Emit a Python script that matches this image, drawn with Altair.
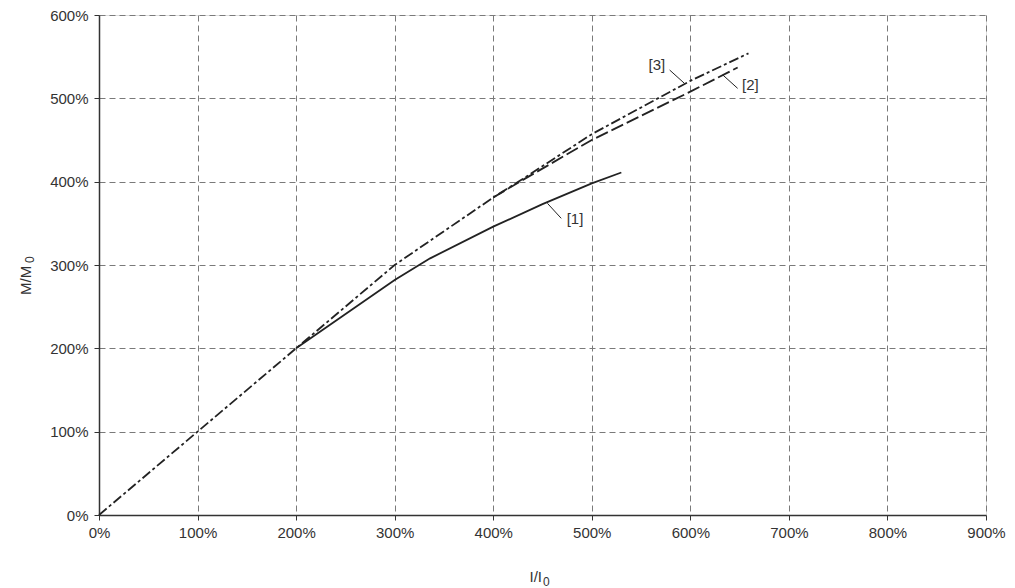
import altair as alt
import pandas as pd

# Curve data (percent values)
c1_x = [200, 300, 336, 400, 450, 500, 530]
c1_y = [200, 282, 308, 346, 373, 398, 411]

c2_x = [400, 427, 500, 600, 648]
c2_y = [381, 400, 450, 508, 537]

c3_x = [0, 100, 200, 300, 400, 427, 500, 600, 659]
c3_y = [0, 100, 200, 300, 381, 401, 457, 521, 554]

# Labels and leader lines
lab_text = ["[1]", "[2]", "[3]"]
lab_x = [483, 661, 566]
lab_y = [355, 516, 540]
lead_x = [455, 633, 579]
lead_y = [374, 528, 534]
lead_x2 = [469, 648, 594]
lead_y2 = [356, 512, 518]

x_ticks = list(range(0, 901, 100))
y_ticks = list(range(0, 601, 100))

FONT = "Liberation Sans"
INK = "#222222"
TXT = "#333333"
FS = 15

xs = alt.Scale(domain=[0, 900], nice=False, zero=False)
ys = alt.Scale(domain=[0, 600], nice=False, zero=False)

common = dict(grid=True, gridDash=[6, 4], gridColor="#7a7a7a", gridWidth=1,
              domainColor="#333333", domainWidth=1.5, tickColor="#333333",
              tickSize=5, labelFlush=False, labelOverlap=False,
              labelFont=FONT, labelFontSize=FS, labelColor=TXT, title=None)

x_axis = alt.Axis(values=x_ticks, labelExpr="datum.value + '%'", labelPadding=5, **common)
y_axis = alt.Axis(values=y_ticks, labelExpr="datum.value + '%'", labelPadding=6, **common)

d1 = pd.DataFrame({"x": c1_x, "y": c1_y})
d2 = pd.DataFrame({"x": c2_x, "y": c2_y})
d3 = pd.DataFrame({"x": c3_x, "y": c3_y})
dl = pd.DataFrame({"t": lab_text, "x": lab_x, "y": lab_y})
dr = pd.DataFrame({"x": lead_x, "y": lead_y, "x2": lead_x2, "y2": lead_y2})

line3 = alt.Chart(d3).mark_line(strokeWidth=1.8, color=INK, strokeDash=[10, 3, 3, 3]).encode(
    x=alt.X("x:Q", scale=xs, axis=x_axis),
    y=alt.Y("y:Q", scale=ys, axis=y_axis),
)

line2 = alt.Chart(d2).mark_line(strokeWidth=1.8, color=INK, strokeDash=[13, 4]).encode(
    x=alt.X("x:Q", scale=xs), y=alt.Y("y:Q", scale=ys))

line1 = alt.Chart(d1).mark_line(strokeWidth=1.8, color=INK).encode(
    x=alt.X("x:Q", scale=xs), y=alt.Y("y:Q", scale=ys))

leaders = alt.Chart(dr).mark_rule(strokeWidth=1, color=INK).encode(
    x=alt.X("x:Q", scale=xs), y=alt.Y("y:Q", scale=ys), x2="x2:Q", y2="y2:Q")

labels = alt.Chart(dl).mark_text(font=FONT, fontSize=FS, color=TXT,
                                 align="center", baseline="middle").encode(
    x=alt.X("x:Q", scale=xs), y=alt.Y("y:Q", scale=ys), text="t:N")

# Axis titles with subscript 0
one = pd.DataFrame({"a": [0]})
xt_main = alt.Chart(one).mark_text(font=FONT, fontSize=FS, color=TXT, align="right",
                                   baseline="alphabetic", text="I/I").encode(
    x=alt.value(443), y=alt.value(567))
xt_sub = alt.Chart(one).mark_text(font=FONT, fontSize=12, color=TXT, align="left",
                                  baseline="alphabetic", text="0").encode(
    x=alt.value(444), y=alt.value(571))
yt_main = alt.Chart(one).mark_text(font=FONT, fontSize=FS, color=TXT, align="left",
                                   baseline="alphabetic", angle=270, text="M/M").encode(
    x=alt.value(-68), y=alt.value(280))
yt_sub = alt.Chart(one).mark_text(font=FONT, fontSize=12, color=TXT, align="left",
                                  baseline="alphabetic", angle=270, text="0").encode(
    x=alt.value(-65), y=alt.value(248))

chart = alt.layer(line3, line2, line1, leaders, labels,
                  xt_main, xt_sub, yt_main, yt_sub).properties(
    width=887, height=500,
    autosize=alt.AutoSizeParams(type="none"),
    padding={"left": 99, "top": 15, "right": 29, "bottom": 73},
).configure_view(stroke=None).configure(background="white")

chart.save("out.html", embed_options={"renderer": "svg", "actions": False})
